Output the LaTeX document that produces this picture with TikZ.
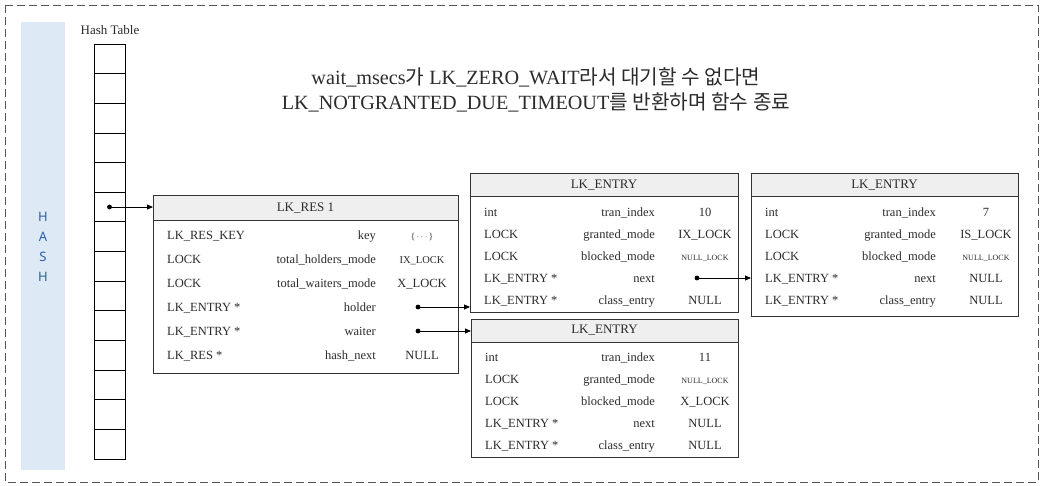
\documentclass[tikz,border=0pt]{standalone}
\usepackage{fontspec}
\usetikzlibrary{arrows.meta}
\setmainfont{Liberation Serif}
\newfontfamily\krfont{Noto Sans CJK KR}
\newfontfamily\hashfont{Noto Sans}
\definecolor{bord}{HTML}{333333}
\definecolor{txt}{HTML}{2B2B2B}
\definecolor{hdrfill}{HTML}{EFEFEF}
\definecolor{barblue}{HTML}{DDEAF6}
\definecolor{hashblue}{HTML}{2F5DA8}
\definecolor{dashgray}{HTML}{555555}
\newcommand\sm{\fontsize{8}{9}\selectfont}
\newcommand\md{\fontsize{10.5}{11}\selectfont}
\begin{document}
\begin{tikzpicture}[x=1pt,y=-1pt,
  box/.style={draw=bord,line width=1pt,fill=white,inner sep=0pt,outer sep=0pt,anchor=north west},
  hdr/.style={draw=bord,line width=1pt,fill=hdrfill,inner sep=0pt,outer sep=0pt,anchor=north west,text=txt,font=\fontsize{13}{14}\selectfont},
  cell/.style={draw=black,line width=0.8pt,fill=white,inner sep=0pt,outer sep=0pt,anchor=north west,minimum width=31pt,minimum height=29.64pt},
  tc/.style={anchor=base west,inner sep=0pt,text=txt,font=\fontsize{12.5}{14}\selectfont},
  fc/.style={anchor=base east,inner sep=0pt,text=txt,font=\fontsize{12.5}{14}\selectfont},
  vc/.style={anchor=base,inner sep=0pt,text=txt,font=\fontsize{12.5}{14}\selectfont},
  ptr/.style={line width=0.8pt,-{Triangle[length=6pt,width=5pt]}},
  dot/.style={fill=black},
  hl/.style={text=hashblue,font=\hashfont\fontsize{13}{14}\selectfont,inner sep=0pt}
]
\useasboundingbox (0,0) rectangle (1043,486);
% outer dashed frame
\draw[dashgray,line width=0.8pt,dash pattern=on 8pt off 4pt] (5,5) rectangle (1038,482);
% blue bar
\fill[barblue] (21,22) rectangle (65,470);
\node[hl] (hH) at (43,217) {H};
\node[hl] (hA) at (43,237) {A};
\node[hl] (hS) at (43,257) {S};
\node[hl] (hH2) at (43,277) {H};
% hash table
\node[text=txt,font=\fontsize{13}{14}\selectfont,inner sep=0pt] (htlabel) at (110,30) {Hash Table};
\foreach \i in {0,...,13}{
  \node[cell] (cell\i) at (94,44+29.64*\i) {};
}
% title
\node[align=center,text=txt,font=\fontsize{20.2}{24.5}\selectfont,inner sep=0pt] (title) at (536,90)
 {wait\_msecs{\krfont 가} LK\_ZERO\_WAIT{\krfont 라서 대기할 수 없다면}\\
  LK\_NOTGRANTED\_DUE\_TIMEOUT{\krfont 를 반환하며 함수 종료}};

% LK_RES 1
\node[box,minimum width=305pt,minimum height=177pt] (res) at (153,196) {};
\node[hdr,minimum width=305pt,minimum height=25pt] (resh) at (153,196) {LK\_RES 1};
\foreach \t/\f/\v [count=\i from 0] in {LK\_RES\_KEY/key/{\fontsize{9}{10}\selectfont\{\,$\cdots$\,\}},LOCK/total\_holders\_mode/{\md IX\_LOCK},LOCK/total\_waiters\_mode/X\_LOCK,LK\_ENTRY */holder/{},LK\_ENTRY */waiter/{},LK\_RES */hash\_next/NULL}{
  \node[tc] (res-t\i) at (167,239.5+24*\i) {\t};
  \node[fc] (res-f\i) at (376,239.5+24*\i) {\f};
  \node[vc] (res-v\i) at (422,239.5+24*\i) {\v};
}
\coordinate (holderdot) at (418,307);
\coordinate (waiterdot) at (418,331);

% LK_ENTRY A (holder)
\node[box,minimum width=268pt,minimum height=138pt] (ea) at (470,174) {};
\node[hdr,minimum width=268pt,minimum height=23pt] (eah) at (470,174) {LK\_ENTRY};
\foreach \t/\f/\v [count=\i from 0] in {int/tran\_index/10,LOCK/granted\_mode/IX\_LOCK,LOCK/blocked\_mode/{\sm NULL\_LOCK},LK\_ENTRY */next/{},LK\_ENTRY */class\_entry/NULL}{
  \node[tc] (ea-t\i) at (484,216.5+22*\i) {\t};
  \node[fc] (ea-f\i) at (655,216.5+22*\i) {\f};
  \node[vc] (ea-v\i) at (705,216.5+22*\i) {\v};
}
\coordinate (nextdot) at (697,278);

% LK_ENTRY B (next)
\node[box,minimum width=267pt,minimum height=142pt] (eb) at (751,174) {};
\node[hdr,minimum width=267pt,minimum height=23pt] (ebh) at (751,174) {LK\_ENTRY};
\foreach \t/\f/\v [count=\i from 0] in {int/tran\_index/7,LOCK/granted\_mode/IS\_LOCK,LOCK/blocked\_mode/{\sm NULL\_LOCK},LK\_ENTRY */next/NULL,LK\_ENTRY */class\_entry/NULL}{
  \node[tc] (eb-t\i) at (765,216.5+22*\i) {\t};
  \node[fc] (eb-f\i) at (936,216.5+22*\i) {\f};
  \node[vc] (eb-v\i) at (986,216.5+22*\i) {\v};
}

% LK_ENTRY C (waiter)
\node[box,minimum width=267pt,minimum height=138pt] (ec) at (471,319) {};
\node[hdr,minimum width=267pt,minimum height=23pt] (ech) at (471,319) {LK\_ENTRY};
\foreach \t/\f/\v [count=\i from 0] in {int/tran\_index/11,LOCK/granted\_mode/{\sm NULL\_LOCK},LOCK/blocked\_mode/X\_LOCK,LK\_ENTRY */next/NULL,LK\_ENTRY */class\_entry/NULL}{
  \node[tc] (ec-t\i) at (485,361.5+22*\i) {\t};
  \node[fc] (ec-f\i) at (655,361.5+22*\i) {\f};
  \node[vc] (ec-v\i) at (705,361.5+22*\i) {\v};
}

% connectors
\coordinate (hashdot) at (cell5.center);
\fill[dot] (hashdot) circle (2.4pt);
\draw[ptr] (hashdot) -- (hashdot -| res.west);
\fill[dot] (holderdot) circle (2.4pt);
\draw[ptr] (holderdot) -- (holderdot -| ea.west);
\fill[dot] (waiterdot) circle (2.4pt);
\draw[ptr] (waiterdot) -- (waiterdot -| ec.west);
\fill[dot] (nextdot) circle (2.4pt);
\draw[ptr] (nextdot) -- (nextdot -| eb.west);
\end{tikzpicture}
\end{document}
